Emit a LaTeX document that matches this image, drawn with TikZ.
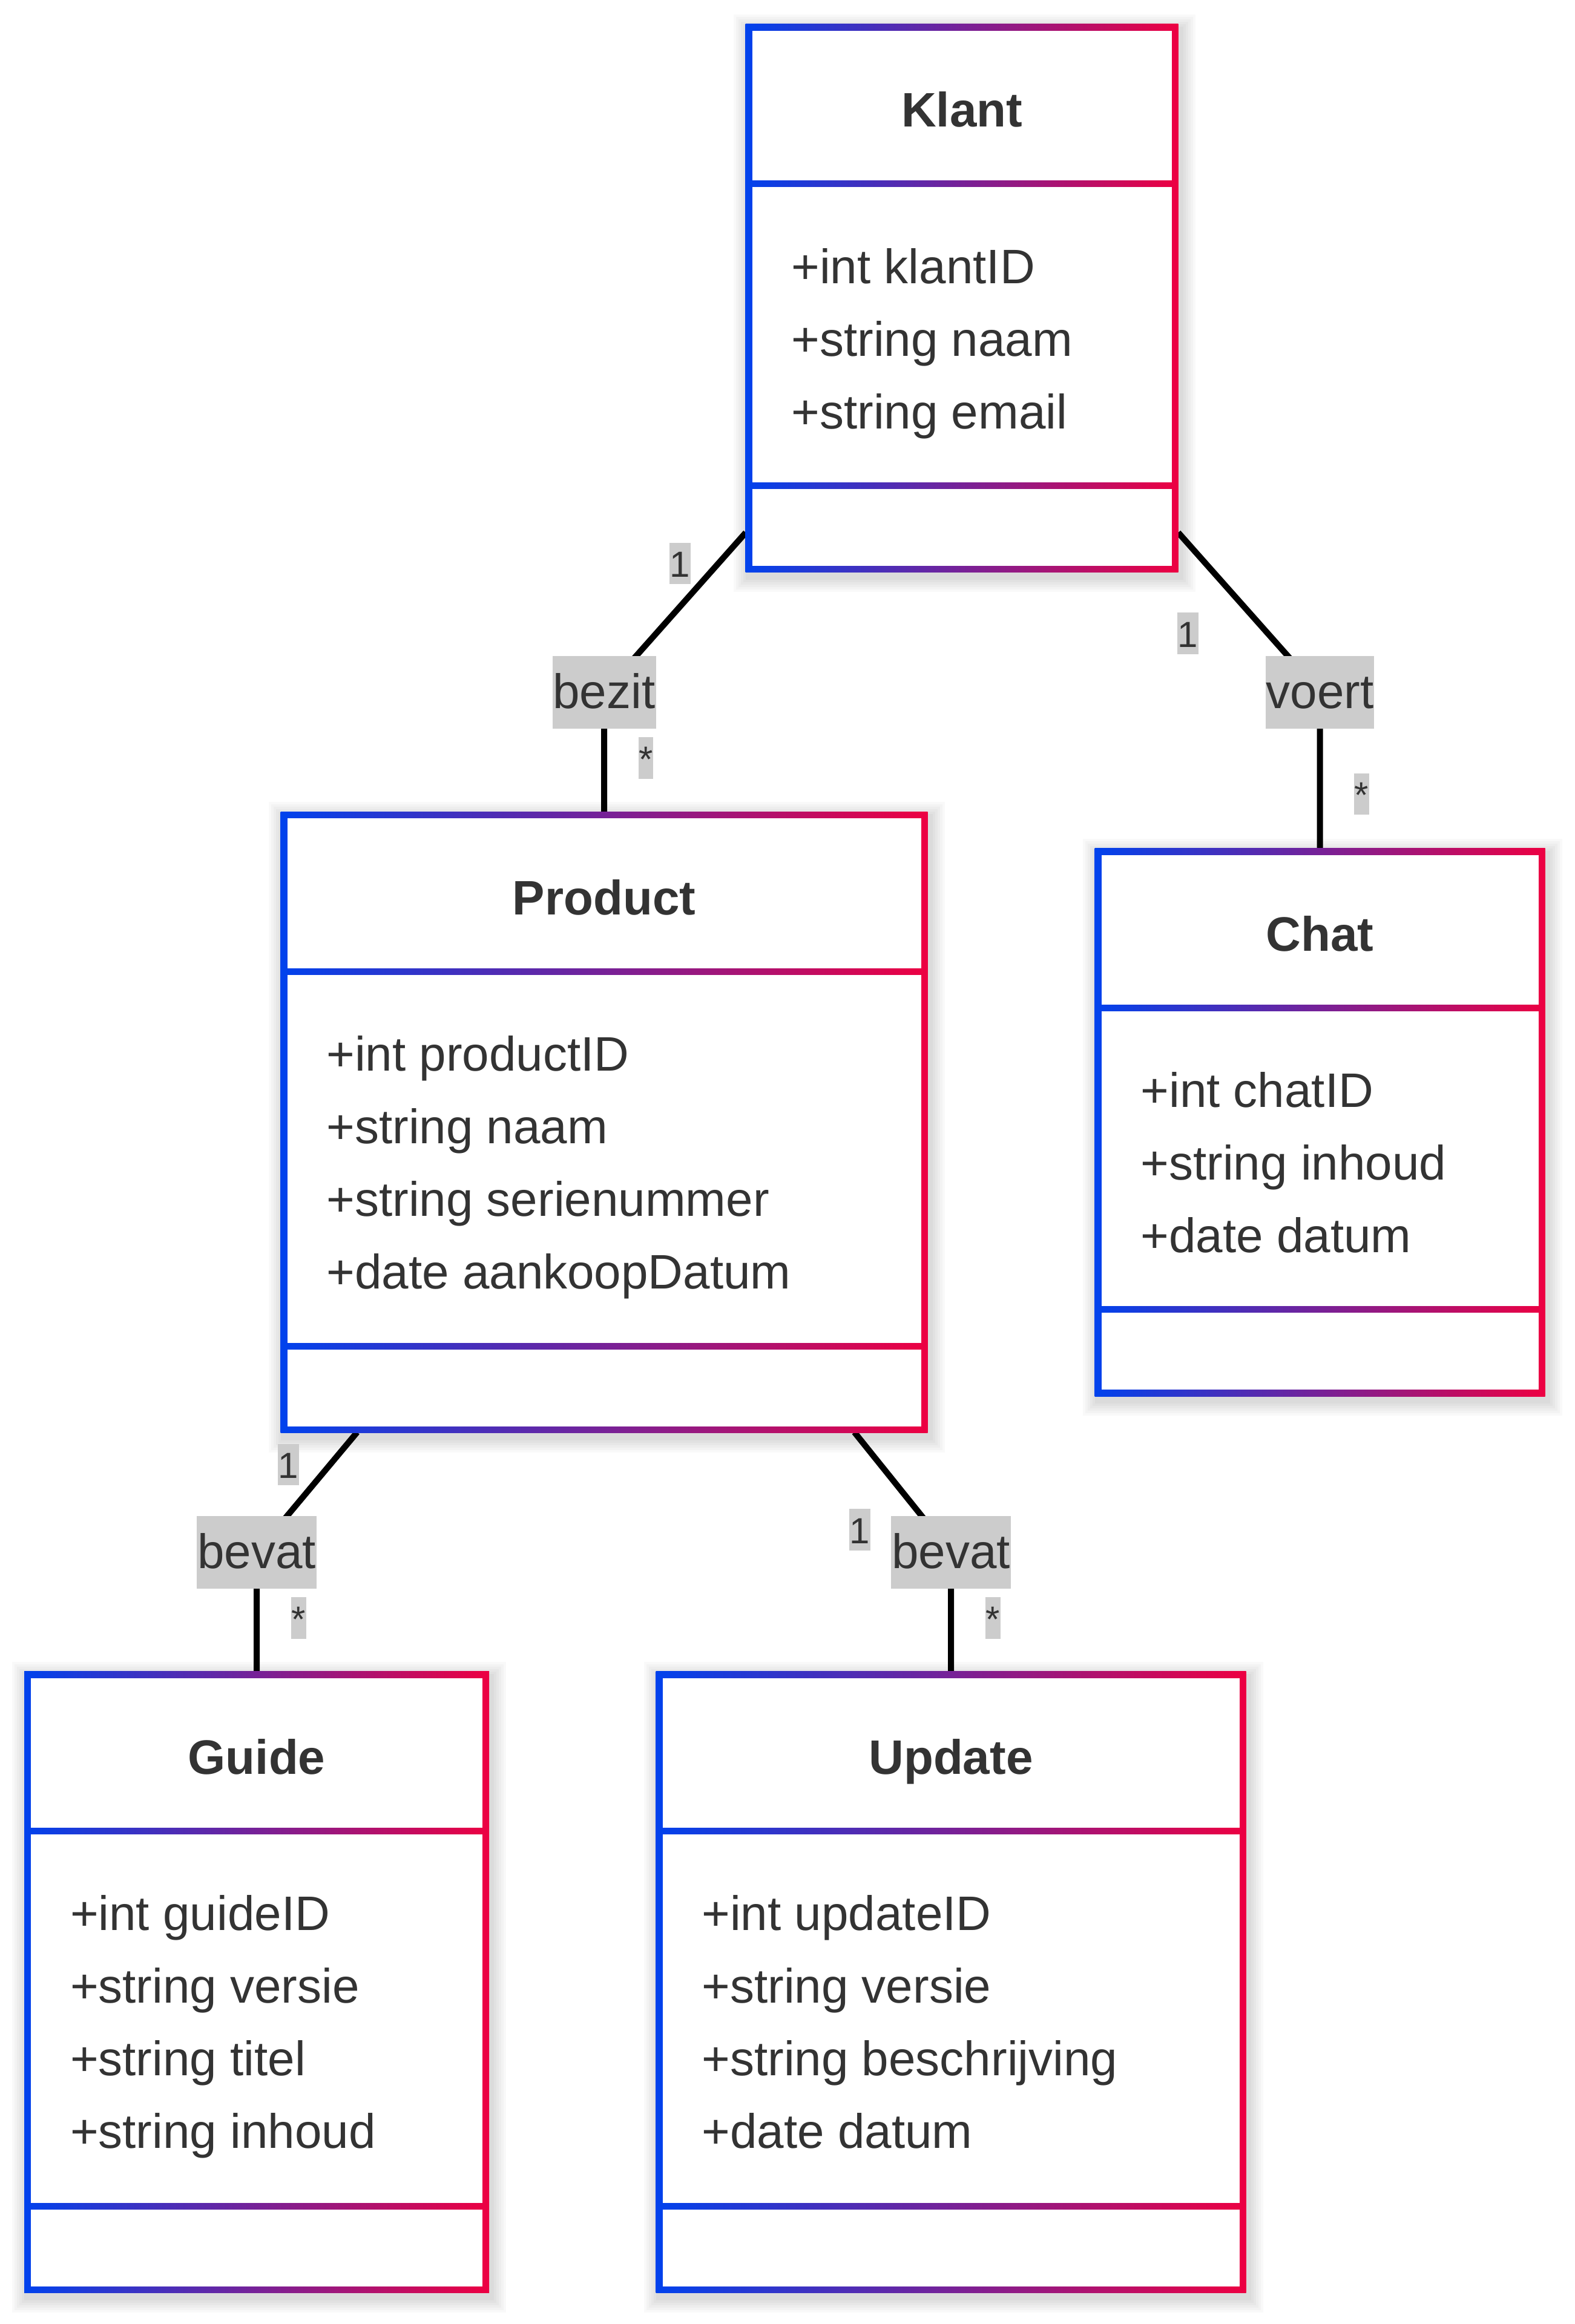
\documentclass[tikz,border=0pt]{standalone}
\usepackage{fontspec}
\setmainfont{Liberation Sans}
\usetikzlibrary{calc}
\definecolor{cblue}{RGB}{0,66,237}
\definecolor{cred}{RGB}{237,0,66}
\definecolor{ctext}{HTML}{333333}
\definecolor{clabel}{HTML}{CCCCCC}
\pgfdeclarelayer{back}
\pgfdeclarelayer{bg}
\pgfsetlayers{back,bg,main}

\tikzset{
  boxnode/.style={rectangle, inner sep=0pt, outer sep=0pt, draw=none, left color=cblue, right color=cred},
  ttl/.style={anchor=base, inner sep=0pt, text=ctext, font=\fontsize{16}{24}\selectfont\bfseries},
  attr/.style={anchor=base west, inner sep=0pt, text=ctext, font=\fontsize{16}{24}\selectfont},
  rel/.style={fill=clabel, text=ctext, inner xsep=0.2pt, inner ysep=0pt, minimum height=24pt, text height=11.5pt, text depth=0.9pt, font=\fontsize{16}{24}\selectfont},
  card/.style={fill=clabel, text=ctext, inner xsep=0.1pt, inner ysep=0pt, minimum height=13.7pt, text height=9pt, text depth=0pt, font=\fontsize{12}{14}\selectfont},
  conn/.style={draw=black, line width=2pt},
}

% #1 name, #2 left, #3 right, #4 top, #5 height
\newcommand{\umlframe}[5]{%
  \pgfmathsetmacro{\uB}{#4+#5}%
  \pgfmathsetmacro{\uDa}{#4+52.8}%
  \pgfmathsetmacro{\uDb}{#4+#5-28.7}%
  \foreach \s in {1,...,6}{\fill[black,opacity=0.022] ({#2+0.8-\s*0.8},{#4+1.6-\s*0.8}) rectangle ({#3+0.8+\s*0.8},{\uB+1.6+\s*0.8});}%
  \node[boxnode, minimum width={(#3-#2)*1pt}, minimum height={#5*1pt}, anchor=north west] (#1) at (#2,#4) {};%
  \fill[white] ({#2+2.2},{#4+2.2}) rectangle ({#3-2.2},{\uDa-1.1});%
  \fill[white] ({#2+2.2},{\uDa+1.1}) rectangle ({#3-2.2},{\uDb-1.1});%
  \fill[white] ({#2+2.2},{\uDb+1.1}) rectangle ({#3-2.2},{\uB-2.2});%
}

\begin{document}
\begin{tikzpicture}[x=1pt,y=-1pt]
\useasboundingbox (0,0) rectangle (520.2,768);
\begin{pgfonlayer}{back}
\fill[white] (0,0) rectangle (520.2,768);
\end{pgfonlayer}

% Klant
\umlframe{klant}{246.3}{389.3}{8.0}{181.1}
\node[ttl] (klant-t) at (317.8,42.0) {Klant};
\node[attr] (klant-a1) at (261.3,93.6) {+int klantID};
\node[attr] (klant-a2) at (261.3,117.6) {+string naam};
\node[attr] (klant-a3) at (261.3,141.6) {+string email};

% Product
\umlframe{product}{92.7}{306.5}{268.2}{205.3}
\node[ttl] (product-t) at (199.6,302.2) {Product};
\node[attr] (product-a1) at (107.7,353.8) {+int productID};
\node[attr] (product-a2) at (107.7,377.8) {+string naam};
\node[attr] (product-a3) at (107.7,401.8) {+string serienummer};
\node[attr] (product-a4) at (107.7,425.8) {+date aankoopDatum};

% Chat
\umlframe{chat}{361.7}{510.5}{280.3}{181.1}
\node[ttl] (chat-t) at (436.1,314.3) {Chat};
\node[attr] (chat-a1) at (376.7,365.9) {+int chatID};
\node[attr] (chat-a2) at (376.7,389.9) {+string inhoud};
\node[attr] (chat-a3) at (376.7,413.9) {+date datum};

% Guide
\umlframe{guide}{8.0}{161.6}{552.3}{205.4}
\node[ttl] (guide-t) at (84.8,586.3) {Guide};
\node[attr] (guide-a1) at (23.0,637.9) {+int guideID};
\node[attr] (guide-a2) at (23.0,661.9) {+string versie};
\node[attr] (guide-a3) at (23.0,685.9) {+string titel};
\node[attr] (guide-a4) at (23.0,709.9) {+string inhoud};

% Update
\umlframe{update}{216.7}{411.7}{552.3}{205.4}
\node[ttl] (update-t) at (314.2,586.3) {Update};
\node[attr] (update-a1) at (231.7,637.9) {+int updateID};
\node[attr] (update-a2) at (231.7,661.9) {+string versie};
\node[attr] (update-a3) at (231.7,685.9) {+string beschrijving};
\node[attr] (update-a4) at (231.7,709.9) {+date datum};

% relation labels
\node[rel] (bezit) at (199.6,228.7) {bezit};
\node[rel] (voert) at (436.1,228.7) {voert};
\node[rel] (bevat1) at (84.8,513.0) {bevat};
\node[rel] (bevat2) at (314.2,513.0) {bevat};

% cardinalities
\node[card] (c1a) at (224.7,186.2) {1};
\node[card] (c1b) at (213.4,250.5) {*};
\node[card] (c2a) at (392.5,209.3) {1};
\node[card] (c2b) at (449.9,262.4) {*};
\node[card] (c3a) at (95.3,484.0) {1};
\node[card] (c3b) at (98.7,534.7) {*};
\node[card] (c4a) at (284.1,505.5) {1};
\node[card] (c4b) at (328.1,534.7) {*};

% connector start points on the box borders
\coordinate (kp) at (246.4,176.0);
\coordinate (kc) at (389.3,176.0);
\coordinate (pg) at (118.0,473.3);
\coordinate (pu) at (282.3,473.3);

\begin{pgfonlayer}{bg}
\draw[conn] (kp) -- (bezit.center) -- (bezit.center |- product.north);
\draw[conn] (kc) -- (voert.center) -- (voert.center |- chat.north);
\draw[conn] (pg) -- (bevat1.center) -- (bevat1.center |- guide.north);
\draw[conn] (pu) -- (bevat2.center) -- (bevat2.center |- update.north);
\end{pgfonlayer}
\end{tikzpicture}
\end{document}
